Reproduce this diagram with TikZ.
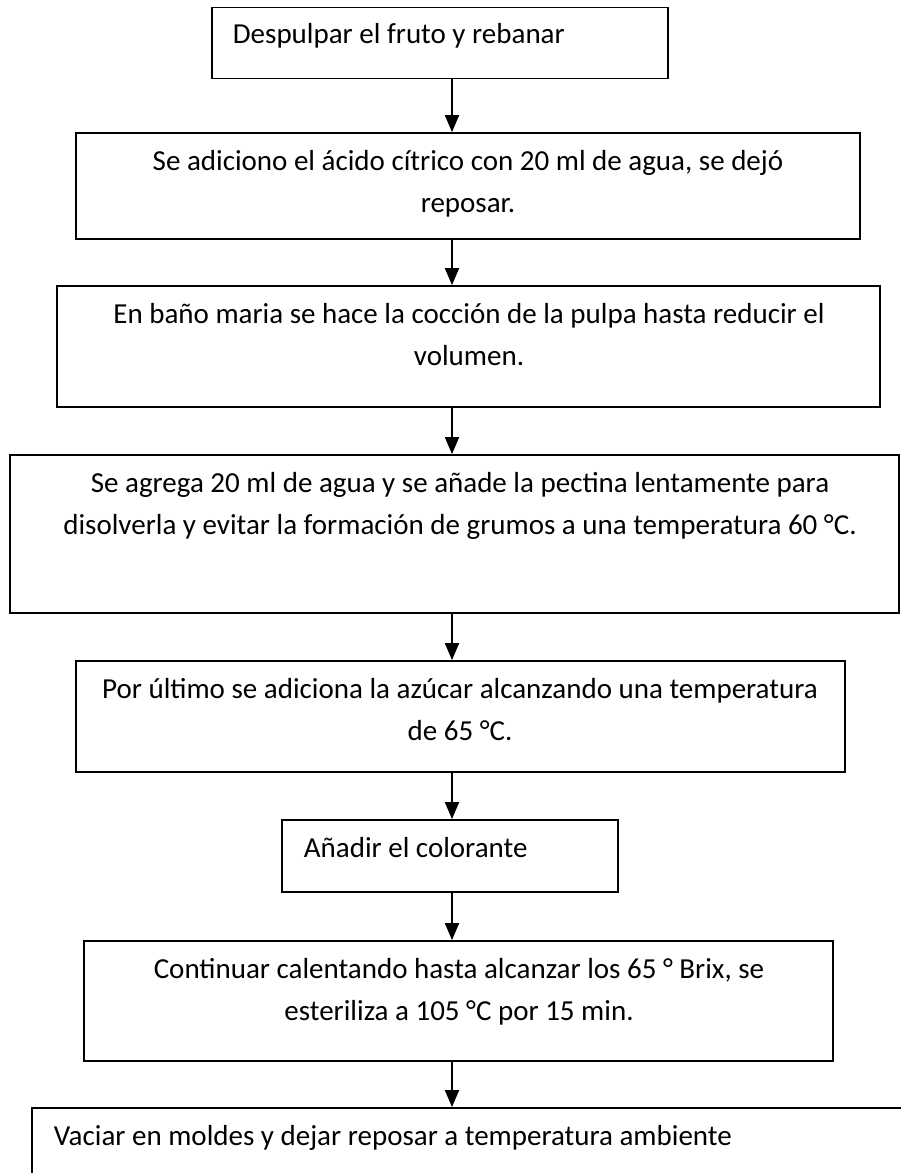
\documentclass[tikz,border=0pt]{standalone}
\usepackage{fontspec}
\setmainfont{Carlito}
\usetikzlibrary{arrows.meta}

\tikzset{
  stepbox/.style={draw, line width=1.8pt, inner sep=0pt},
  steptext/.style={font=\fontsize{29}{42}\selectfont, inner sep=0pt},
}

\begin{document}
\begin{tikzpicture}[x=1pt, y=-1pt, >={Triangle[length=17pt, width=14pt]}, line width=1.8pt]
\useasboundingbox (0,0) rectangle (901,1173);

% Boxes
\node[stepbox, minimum width=456pt, minimum height=71pt] (b1) at (440,43) {};
\node[stepbox, minimum width=784pt, minimum height=106pt] (b2) at (468,186) {};
\node[stepbox, minimum width=823pt, minimum height=121pt] (b3) at (468.5,346.5) {};
\node[stepbox, minimum width=889pt, minimum height=158pt] (b4) at (454.5,534) {};
\node[stepbox, minimum width=769pt, minimum height=111pt] (b5) at (460.5,716.5) {};
\node[stepbox, minimum width=336pt, minimum height=72pt] (b6) at (450,856) {};
\node[stepbox, minimum width=749pt, minimum height=120pt] (b7) at (458.5,1001) {};
\node[stepbox, minimum width=900pt, minimum height=200pt] (b8) at (482,1208) {};

% Texts
\node[steptext, anchor=base west] (t1) at (232,43) {Despulpar el fruto y rebanar};
\node[steptext, align=center, anchor=north] (t2) at (468,140)
  {\strut Se adiciono el ácido cítrico con 20 ml de agua, se dejó\\\strut reposar.};
\node[steptext, align=center, anchor=north] (t3) at (469,293)
  {\strut En baño maria se hace la cocción de la pulpa hasta reducir el\\\strut volumen.};
\node[steptext, align=center, anchor=north] (t4) at (460,462)
  {\strut Se agrega 20 ml de agua y se añade la pectina lentamente para\\\strut disolverla y evitar la formación de grumos a una temperatura 60 °C.};
\node[steptext, align=center, anchor=north] (t5) at (460,668)
  {\strut Por último se adiciona la azúcar alcanzando una temperatura\\\strut de 65 °C.};
\node[steptext, anchor=base west] (t6) at (303,857) {Añadir el colorante};
\node[steptext, align=center, anchor=north] (t7) at (459,948)
  {\strut Continuar calentando hasta alcanzar los 65 ° Brix, se\\\strut esteriliza a 105 °C por 15 min.};
\node[steptext, anchor=base west] (t8) at (53,1145) {Vaciar en moldes y dejar reposar a temperatura ambiente};

% Arrows
\coordinate (ax) at (452,0);
\draw[->] (b1.south -| ax) -- (b2.north -| ax);
\draw[->] (b2.south -| ax) -- (b3.north -| ax);
\draw[->] (b3.south -| ax) -- (b4.north -| ax);
\draw[->] (b4.south -| ax) -- (b5.north -| ax);
\draw[->] (b5.south -| ax) -- (b6.north -| ax);
\draw[->] (b6.south -| ax) -- (b7.north -| ax);
\draw[->] (b7.south -| ax) -- (b8.north -| ax);

\end{tikzpicture}
\end{document}
